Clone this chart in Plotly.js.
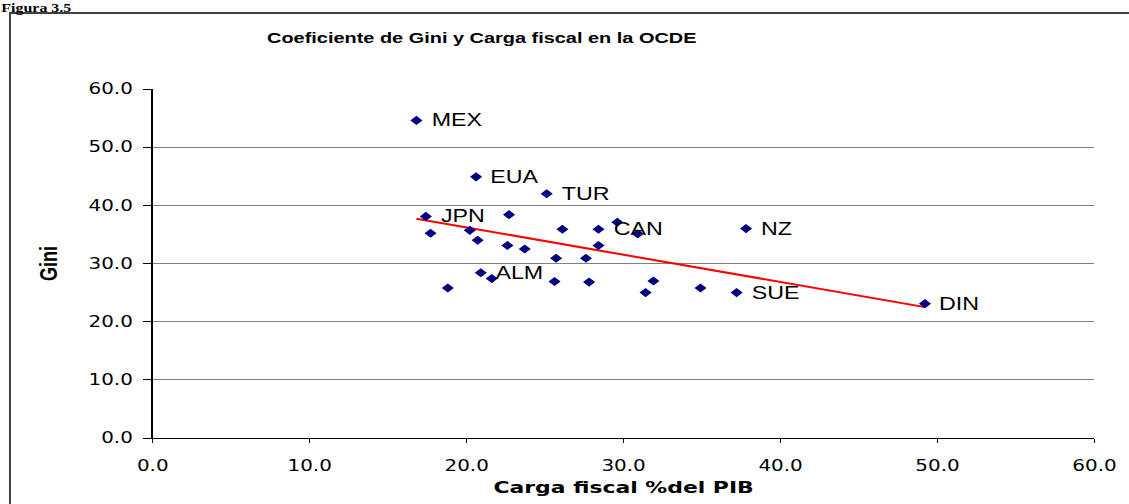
<!DOCTYPE html>
<html>
<head>
<meta charset="utf-8">
<script src="https://cdn.plot.ly/plotly-3.0.1.min.js"></script>
<style>
  html, body { margin: 0; padding: 0; background: #ffffff; overflow: hidden; }
  #wrap { width: 1129px; height: 504px; overflow: hidden; position: relative; }
  #chart { width: 850px; height: 504px; transform: scaleX(1.32824); transform-origin: 0 0; }
</style>
</head>
<body>
<div id="wrap"><div id="chart"></div></div>
<script>
// ---- data ----
var paises = ["MEX", "EUA", "TUR", "JPN", "", "", "", "", "", "", "", "CAN", "", "", "", "", "",
              "ALM", "", "", "", "", "", "", "NZ", "", "SUE", "DIN"];
var cargaFiscal = [16.8, 20.6, 25.1, 17.4, 22.7, 17.7, 20.2, 20.7, 22.6, 23.7, 26.1, 28.4, 28.4, 25.7, 27.6, 29.6, 30.9,
                   20.9, 21.6, 18.8, 25.6, 27.8, 31.9, 31.4, 37.8, 34.9, 37.2, 49.2];
var gini = [54.6, 44.9, 42.0, 38.1, 38.4, 35.2, 35.7, 34.0, 33.1, 32.5, 35.9, 35.9, 33.1, 30.9, 30.9, 37.1, 35.1,
            28.4, 27.4, 25.8, 26.9, 26.8, 27.0, 25.0, 36.0, 25.8, 25.0, 23.1];
var tendenciaX = [16.8, 49.2];
var tendenciaY = [37.7, 22.5];
var ticksEje = [0, 10, 20, 30, 40, 50, 60];
var ticksTexto = ["0.0", "10.0", "20.0", "30.0", "40.0", "50.0", "60.0"];

var tituloGrafico = "Coeficiente de Gini y Carga fiscal en la OCDE";
var tituloX = "Carga fiscal %del PIB";
var tituloY = "Gini";
var figura = "Figura 3.5";

// ---- traces ----
var puntos = {
  type: "scatter",
  mode: "markers",
  x: cargaFiscal,
  y: gini,
  marker: { symbol: "diamond", size: 7, color: "#000080", line: { width: 0 } },
  hoverinfo: "x+y",
  showlegend: false
};
var tendencia = {
  type: "scatter",
  mode: "lines",
  x: tendenciaX,
  y: tendenciaY,
  line: { color: "#ff0000", width: 2 },
  hoverinfo: "skip",
  showlegend: false
};

// ---- labels for named countries ----
var anotaciones = [];
for (var i = 0; i < paises.length; i++) {
  if (paises[i]) {
    anotaciones.push({
      x: cargaFiscal[i], y: gini[i], xref: "x", yref: "y",
      text: paises[i], showarrow: false,
      xanchor: "left", yanchor: "middle", xshift: 9,
      font: { family: "Liberation Sans, Arial, sans-serif", size: 17.5, color: "#000000" }
    });
  }
}
anotaciones.push({
  xref: "paper", yref: "paper", x: -0.1622, y: 1.2550,
  xanchor: "left", yanchor: "top", showarrow: false, borderpad: 0,
  text: "<b>" + figura + "</b>",
  font: { family: "Liberation Serif, Times New Roman, serif", size: 12, color: "#000000" }
});

var tickFont = { family: "DejaVu Sans, Verdana, sans-serif", size: 15, color: "#000000" };

var layout = {
  width: 850, height: 504,
  margin: { l: 115, r: 26, t: 89, b: 66 },
  paper_bgcolor: "#ffffff",
  plot_bgcolor: "#ffffff",
  title: {
    text: tituloGrafico,
    x: 0.4267, xref: "container", xanchor: "center",
    y: 0.926, yref: "container", yanchor: "middle",
    font: { family: "Liberation Sans, Arial, sans-serif", size: 15, weight: "bold", color: "#000000" }
  },
  xaxis: {
    range: [0, 60], tickvals: ticksEje, ticktext: ticksTexto,
    showgrid: false, zeroline: false,
    showline: true, linecolor: "#000000", linewidth: 1,
    ticks: "outside", ticklen: 4, tickcolor: "#000000", tickwidth: 1,
    ticklabelstandoff: 10,
    tickfont: tickFont,
    fixedrange: true,
    title: {
      text: tituloX, standoff: 7,
      font: { family: "DejaVu Sans, Verdana, sans-serif", size: 16.5, weight: "bold", color: "#000000" }
    }
  },
  yaxis: {
    range: [0, 60], tickvals: ticksEje, ticktext: ticksTexto,
    showgrid: true, gridcolor: "#808080", gridwidth: 1,
    zeroline: false,
    showline: true, linecolor: "#000000", linewidth: 1,
    ticks: "outside", ticklen: 6, tickcolor: "#000000", tickwidth: 1,
    ticklabelstandoff: 5,
    tickfont: tickFont,
    fixedrange: true,
    title: {
      text: tituloY, standoff: 18,
      font: { family: "Liberation Sans, Arial, sans-serif", size: 18, weight: "bold", color: "#000000" }
    }
  },
  shapes: [
    { type: "line", xref: "paper", yref: "paper", x0: -0.1516, x1: -0.1516, y0: 1.2178, y1: -0.5,
      line: { color: "#404040", width: 1.5 } },
    { type: "line", xref: "paper", yref: "paper", x0: -0.1526, x1: 1.5, y0: 1.2178, y1: 1.2178,
      line: { color: "#404040", width: 2 } }
  ],
  annotations: anotaciones
};

Plotly.newPlot("chart", [tendencia, puntos], layout, { displayModeBar: false, staticPlot: true });
</script>
</body>
</html>
